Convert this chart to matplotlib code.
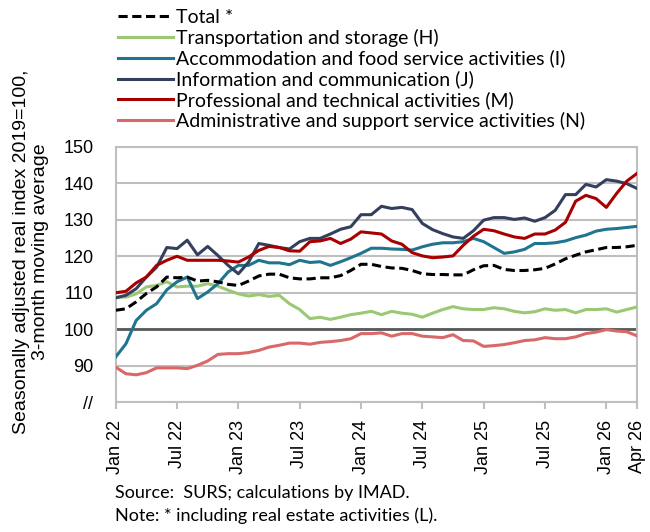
import numpy as np
import matplotlib.pyplot as plt

# monthly data, Jan 2022 - Apr 2026 (index 2019=100, 3-month moving average)
total = [105.2, 105.6, 107.5, 109.8, 111.6, 114.3, 114.1, 114.3, 113.2, 113.4, 113.0, 112.3, 112.0,
         113.2, 114.6, 115.1, 115.1, 114.1, 113.8, 113.8, 114.1, 114.1, 114.7, 116.1, 117.8, 117.8,
         117.2, 116.8, 116.7, 116.1, 115.2, 115.0, 115.0, 114.9, 114.9, 116.3, 117.4, 117.5, 116.4,
         116.1, 116.1, 116.3, 116.7, 117.9, 119.3, 120.3, 121.2, 121.8, 122.4, 122.4, 122.6, 123.0]
transport = [108.8, 108.8, 109.7, 111.6, 112.0, 113.0, 111.6, 111.8, 111.8, 112.5, 111.8, 110.7, 109.7,
             109.1, 109.5, 109.0, 109.3, 107.0, 105.4, 102.9, 103.3, 102.7, 103.3, 104.0, 104.4, 104.9,
             104.0, 104.9, 104.4, 104.1, 103.3, 104.4, 105.4, 106.2, 105.6, 105.4, 105.4, 105.9, 105.6,
             104.9, 104.5, 104.8, 105.6, 105.2, 105.4, 104.5, 105.4, 105.4, 105.6, 104.7, 105.4, 106.1]
accommodation = [92.4, 96.0, 102.4, 105.2, 107.0, 110.8, 113.0, 114.3, 108.4, 110.2, 112.5, 115.7, 117.5,
                 117.5, 118.9, 118.2, 118.2, 117.7, 118.9, 118.3, 118.5, 117.5, 118.5, 119.6, 120.8, 122.2,
                 122.2, 122.0, 121.9, 121.7, 122.6, 123.3, 123.7, 123.7, 124.0, 124.9, 124.0, 122.4, 120.8,
                 121.2, 121.9, 123.5, 123.5, 123.7, 124.2, 125.1, 125.8, 126.9, 127.4, 127.6, 127.9, 128.2]
information = [108.6, 109.3, 111.1, 114.3, 117.0, 122.4, 122.1, 124.4, 120.4, 122.7, 120.2, 117.5, 115.2,
               118.4, 123.5, 123.0, 122.4, 122.0, 124.0, 124.9, 124.9, 126.1, 127.4, 128.1, 131.4, 131.4,
               133.7, 133.1, 133.4, 132.8, 129.0, 127.3, 126.2, 125.3, 124.9, 127.0, 129.9, 130.6, 130.6,
               130.1, 130.5, 129.6, 130.6, 132.6, 136.9, 136.9, 139.7, 139.0, 141.0, 140.6, 139.9, 138.6]
professional = [110.0, 110.4, 112.7, 114.3, 117.5, 118.9, 120.0, 118.9, 118.9, 118.9, 118.9, 118.7, 118.4,
                119.8, 121.6, 122.7, 122.4, 121.5, 121.4, 124.0, 124.2, 124.9, 123.5, 124.7, 126.7, 126.4,
                126.1, 124.2, 123.3, 121.0, 120.1, 119.6, 119.8, 120.1, 123.0, 125.5, 127.4, 127.0, 126.1,
                125.3, 124.9, 126.1, 126.1, 127.2, 129.3, 135.1, 136.7, 135.8, 133.4, 137.2, 140.6, 142.7]
administrative = [89.6, 87.8, 87.5, 88.1, 89.4, 89.4, 89.4, 89.2, 90.1, 91.3, 93.1, 93.3, 93.3,
                  93.6, 94.2, 95.1, 95.6, 96.2, 96.2, 95.9, 96.4, 96.6, 96.9, 97.4, 98.8, 98.8,
                  99.0, 98.1, 98.8, 98.8, 98.1, 97.9, 97.7, 98.5, 96.9, 96.8, 95.3, 95.5, 95.8,
                  96.3, 96.9, 97.1, 97.7, 97.4, 97.4, 97.9, 98.8, 99.2, 99.9, 99.5, 99.3, 98.2]

labels = ['Total *',
          'Transportation and storage (H)',
          'Accommodation and food service activities (I)',
          'Information and communication (J)',
          'Professional and technical activities (M)',
          'Administrative and support service activities (N)']
colors = ['black', '#9bc873', '#1f7490', '#333f5c', '#a80000', '#d96868']

tick_pos = [0, 6, 12, 18, 24, 30, 36, 42, 48, 51]
tick_labels = ['Jan 22', 'Jul 22', 'Jan 23', 'Jul 23', 'Jan 24', 'Jul 24',
               'Jan 25', 'Jul 25', 'Jan 26', 'Apr 26']

x = np.arange(len(total))
grey = '#bfbfbf'

fig = plt.figure(figsize=(6.5, 5.32), dpi=100)
ax = fig.add_axes([0.178, 0.244, 0.802, 0.48])

ax.set_ylim(80, 150)
ax.set_xlim(0, 51)
ax.set_yticks(range(80, 151, 10))
ax.set_yticklabels(['//'] + [str(v) for v in range(90, 151, 10)],
                   family='Liberation Sans', fontsize=13)
ax.yaxis.grid(True, color=grey, lw=1.5)
ax.axhline(100, color='#595959', lw=2, zorder=2)
ax.set_axisbelow(True)

series = [total, transport, accommodation, information, professional, administrative]
lines = []
for s, lab, c in zip(series, labels, colors):
    if lab == 'Total *':
        ln, = ax.plot(x, s, color=c, lw=2.2, dashes=(3, 1.5), label=lab, zorder=5)
    else:
        ln, = ax.plot(x, s, color=c, lw=2.2, label=lab, zorder=3)
    lines.append(ln)

ax.set_xticks(tick_pos)
ax.set_xticklabels(tick_labels, rotation=90, family='Liberation Sans', fontsize=13)
ax.tick_params(axis='x', length=5, color=grey, width=1.5, pad=8)
ax.tick_params(axis='y', length=0, pad=16)
for sp in ax.spines.values():
    sp.set_color(grey)
    sp.set_linewidth(1.5)

ax.set_ylabel('Seasonally adjusted real index 2019=100,\n3-month moving average',
              family='Liberation Sans', fontsize=14, linespacing=1.15)
ax.yaxis.set_label_coords(-0.128, 0.59)

fig.legend(handles=lines, loc='upper left', bbox_to_anchor=(0.161, 1.009),
           frameon=False, prop={'family': 'Lato', 'size': 14}, handlelength=2.8,
           handletextpad=0.15, labelspacing=0.15, borderpad=0.2)

fig.text(0.177, 0.064, 'Source:  SURS; calculations by IMAD.', family='Lato', fontsize=13)
fig.text(0.177, 0.021, 'Note: * including real estate activities (L).', family='Lato', fontsize=13)

fig.savefig('out.png', dpi=100)
